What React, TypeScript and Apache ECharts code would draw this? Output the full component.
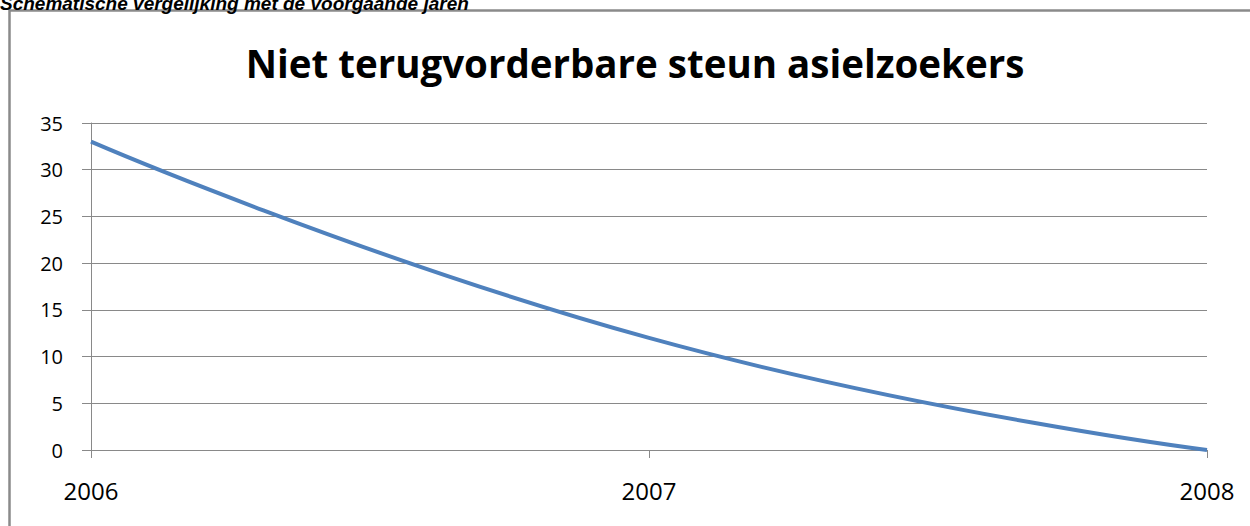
import React, { useEffect, useRef } from "react";
import * as echarts from "echarts";

const years = ["2006", "2007", "2008"];
const values = [33, 12, 0];
const titleText = "Niet terugvorderbare steun asielzoekers";
const captionText = "Schematische vergelijking met de voorgaande jaren";

export default function App() {
  const ref = useRef<HTMLDivElement>(null);
  useEffect(() => {
    if (!ref.current) return;
    const chart = echarts.init(ref.current, null, { renderer: "svg" });
    chart.setOption({
      animation: false,
      backgroundColor: "#ffffff",
      grid: { left: 91, right: 43, top: 123, bottom: 76, containLabel: false },
      xAxis: {
        type: "category",
        data: years,
        boundaryGap: false,
        axisLine: { show: true, lineStyle: { color: "#898989", width: 1 } },
        axisTick: { show: true, length: 8, lineStyle: { color: "#898989" } },
        axisLabel: { color: "#000", fontSize: 24, fontFamily: "Open Sans", margin: 28 },
        splitLine: { show: false },
      },
      yAxis: {
        type: "value",
        min: 0,
        max: 35,
        interval: 5,
        axisLine: { show: true, lineStyle: { color: "#898989", width: 1 } },
        axisTick: { show: true, length: 9, lineStyle: { color: "#898989" } },
        axisLabel: { color: "#000", fontSize: 20, fontFamily: "Open Sans", margin: 28 },
        splitLine: { show: true, lineStyle: { color: "#898989", width: 1 } },
      },
      series: [
        {
          type: "line",
          data: values,
          smooth: 0.5,
          showSymbol: false,
          symbol: "none",
          lineStyle: { color: "#4F81BD", width: 4 },
        },
      ],
      graphic: [
        {
          type: "rect",
          shape: { x: 9.5, y: 10.5, width: 1400, height: 700 },
          style: { fill: "none", stroke: "#8a8a8a", lineWidth: 2.5 },
          silent: true,
        },
        {
          type: "text",
          x: 0,
          y: 13,
          z: 10,
          style: {
            text: captionText,
            font: 'italic bold 19px "Liberation Sans"',
            fill: "#000",
            align: "left",
            verticalAlign: "bottom",
          },
        },
        {
          type: "text",
          x: 635,
          y: 63,
          style: {
            text: titleText,
            font: 'bold 38.5px "Open Sans"',
            fill: "#000",
            align: "center",
            verticalAlign: "middle",
          },
        },
      ],
    });
    return () => chart.dispose();
  }, []);
  return (
    <div
      ref={ref}
      style={{ position: "fixed", left: 0, top: 0, width: 1250, height: 526 }}
    />
  );
}
